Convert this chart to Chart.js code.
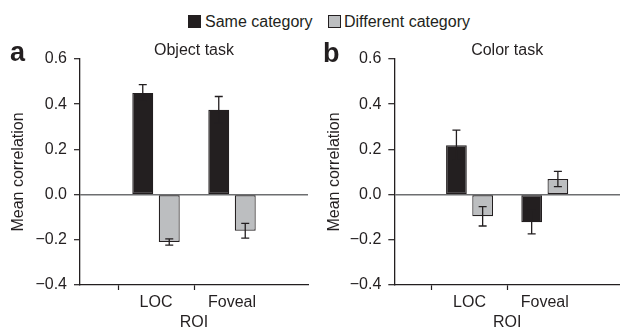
<!DOCTYPE html>
<html>
<head>
<meta charset="utf-8">
<script src="https://cdn.jsdelivr.net/npm/chart.js@4.4.0/dist/chart.umd.min.js"></script>
<style>
body{margin:0;background:#fff;font-family:"Liberation Sans",Arial,sans-serif;color:#231f20}
#wrap{position:relative;width:620px;height:329px;overflow:hidden}
.panel{position:absolute;top:0;height:329px;overflow:hidden}
.letter{position:absolute;font-weight:bold;font-size:27px;line-height:27px}
.key{position:absolute;top:15px;width:11px;height:11px;border:1px solid #231f20}
.ktext{position:absolute;top:13.5px;font-size:16px;line-height:16px;white-space:nowrap}
</style>
</head>
<body>
<div id="wrap">
  <div class="key" style="left:188px;background:#231f20"></div>
  <div class="ktext" style="left:205px">Same category</div>
  <div class="key" style="left:328px;background:#bcbec0"></div>
  <div class="ktext" style="left:344px">Different category</div>
  <div class="panel" style="left:0;width:311px"><canvas id="chartA" width="311" height="331"></canvas></div>
  <div class="panel" style="left:310px;width:313px"><canvas id="chartB" width="313" height="331"></canvas></div>
  <div class="letter" style="left:10px;top:39px">a</div>
  <div class="letter" style="left:323px;top:40px">b</div>
</div>
<script>
// data
const categories = ['LOC', 'Foveal'];
const yTicks = [-0.4, -0.2, 0.0, 0.2, 0.4, 0.6];

// a: object task
const objSame = [0.45, 0.375];
const objSameErr = [0.037, 0.059];
const objDiff = [-0.21, -0.16];
const objDiffErr = [0.014, 0.033];

// b: color task
const colSame = [0.218, -0.122];
const colSameErr = [0.067, 0.052];
const colDiff = [-0.096, 0.069];
const colDiffErr = [0.043, 0.034];

const ink = '#231f20';
const font = 'Liberation Sans, Arial, sans-serif';

// blank slot on each side so LOC / Foveal sit at 1/3 and 2/3 of the axis
const pad = arr => [null, ...arr, null];

const errorBars = {
	id: 'errorBars',
	afterDatasetsDraw(chart, args, opts) {
		const c = chart.ctx;
		const y = chart.scales.y;
		chart.data.datasets.forEach((ds, d) => {
			const meta = chart.getDatasetMeta(d);
			meta.data.forEach((bar, i) => {
				const v = ds.data[i];
				if (v == null) return;
				const e = opts.errors[d][i - 1];
				const top = y.getPixelForValue(v + e);
				const bot = y.getPixelForValue(v - e);
				c.save();
				c.strokeStyle = ink;
				c.lineWidth = 1.3;
				c.beginPath();
				c.moveTo(bar.x, top); c.lineTo(bar.x, bot);
				c.moveTo(bar.x - 4, top); c.lineTo(bar.x + 4, top);
				c.moveTo(bar.x - 4, bot); c.lineTo(bar.x + 4, bot);
				c.stroke();
				c.restore();
			});
		});
	}
};

function fmt(v) {
	if (Math.abs(v) < 1e-9) return '0.0';
	const s = Math.abs(v).toFixed(1);
	return v < 0 ? '\u2212' + s : s;
}

function panel(id, title, same, sameErr, diff, diffErr, yWidth, yTitleLeft) {
	return new Chart(document.getElementById(id), {
		type: 'bar',
		data: {
			labels: ['', ...categories, ''],
			datasets: [{
				label: 'Same category',
				data: pad(same),
				backgroundColor: ink,
				borderColor: ink,
				borderWidth: 1.2,
				borderSkipped: false
			}, {
				label: 'Different category',
				data: pad(diff),
				backgroundColor: '#bcbec0',
				borderColor: ink,
				borderWidth: 1.2,
				borderSkipped: false
			}]
		},
		plugins: [errorBars],
		options: {
			responsive: false,
			animation: false,
			devicePixelRatio: 1,
			categoryPercentage: 0.697,
			barPercentage: 0.79,
			layout: { padding: 0 },
			plugins: {
				legend: { display: false },
				tooltip: { enabled: false },
				title: {
					display: true,
					text: title,
					fullSize: false,
					color: ink,
					font: { family: font, size: 16, weight: 'normal', lineHeight: 1 },
					padding: { top: 43, bottom: 0 }
				},
				errorBars: { errors: [sameErr, diffErr] }
			},
			scales: {
				x: {
					offset: false,
					afterFit: s => { s.height = 46; },
					grid: {
						drawOnChartArea: false,
						tickLength: 5,
						tickColor: ctx => (ctx.index === 1 || ctx.index === 2) ? ink : 'rgba(0,0,0,0)',
						tickWidth: 1.2
					},
					border: { display: true, color: ink, width: 1.3 },
					ticks: { color: ink, padding: 3, maxRotation: 0, autoSkip: false, font: { family: font, size: 16 } },
					title: {
						display: true,
						text: 'ROI',
						color: ink,
						font: { family: font, size: 16, lineHeight: 1 },
						padding: { top: 2.8, bottom: 0 }
					}
				},
				y: {
					min: -0.4,
					max: 0.6,
					afterFit: s => { s.width = yWidth; },
					afterBuildTicks: s => { s.ticks = yTicks.map(v => ({ value: v })); },
					grid: {
						color: ctx => (ctx.tick && Math.abs(ctx.tick.value) < 1e-9) ? '#6d6e70' : 'rgba(0,0,0,0)',
						lineWidth: 1.4,
						tickColor: ink,
						tickLength: 6,
						tickWidth: 1.2
					},
					border: { display: true, color: ink, width: 1.3 },
					ticks: { color: ink, padding: 7, callback: v => fmt(v), font: { family: font, size: 16 } },
					title: {
						display: true,
						text: 'Mean correlation',
						color: ink,
						font: { family: font, size: 16 },
						padding: { top: yTitleLeft, bottom: 0 }
					}
				}
			}
		}
	});
}

panel('chartA', 'Object task', objSame, objSameErr, objDiff, objDiffErr, 80, 9);
panel('chartB', 'Color task', colSame, colSameErr, colDiff, colDiffErr, 84.3, 15);
</script>
</body>
</html>
